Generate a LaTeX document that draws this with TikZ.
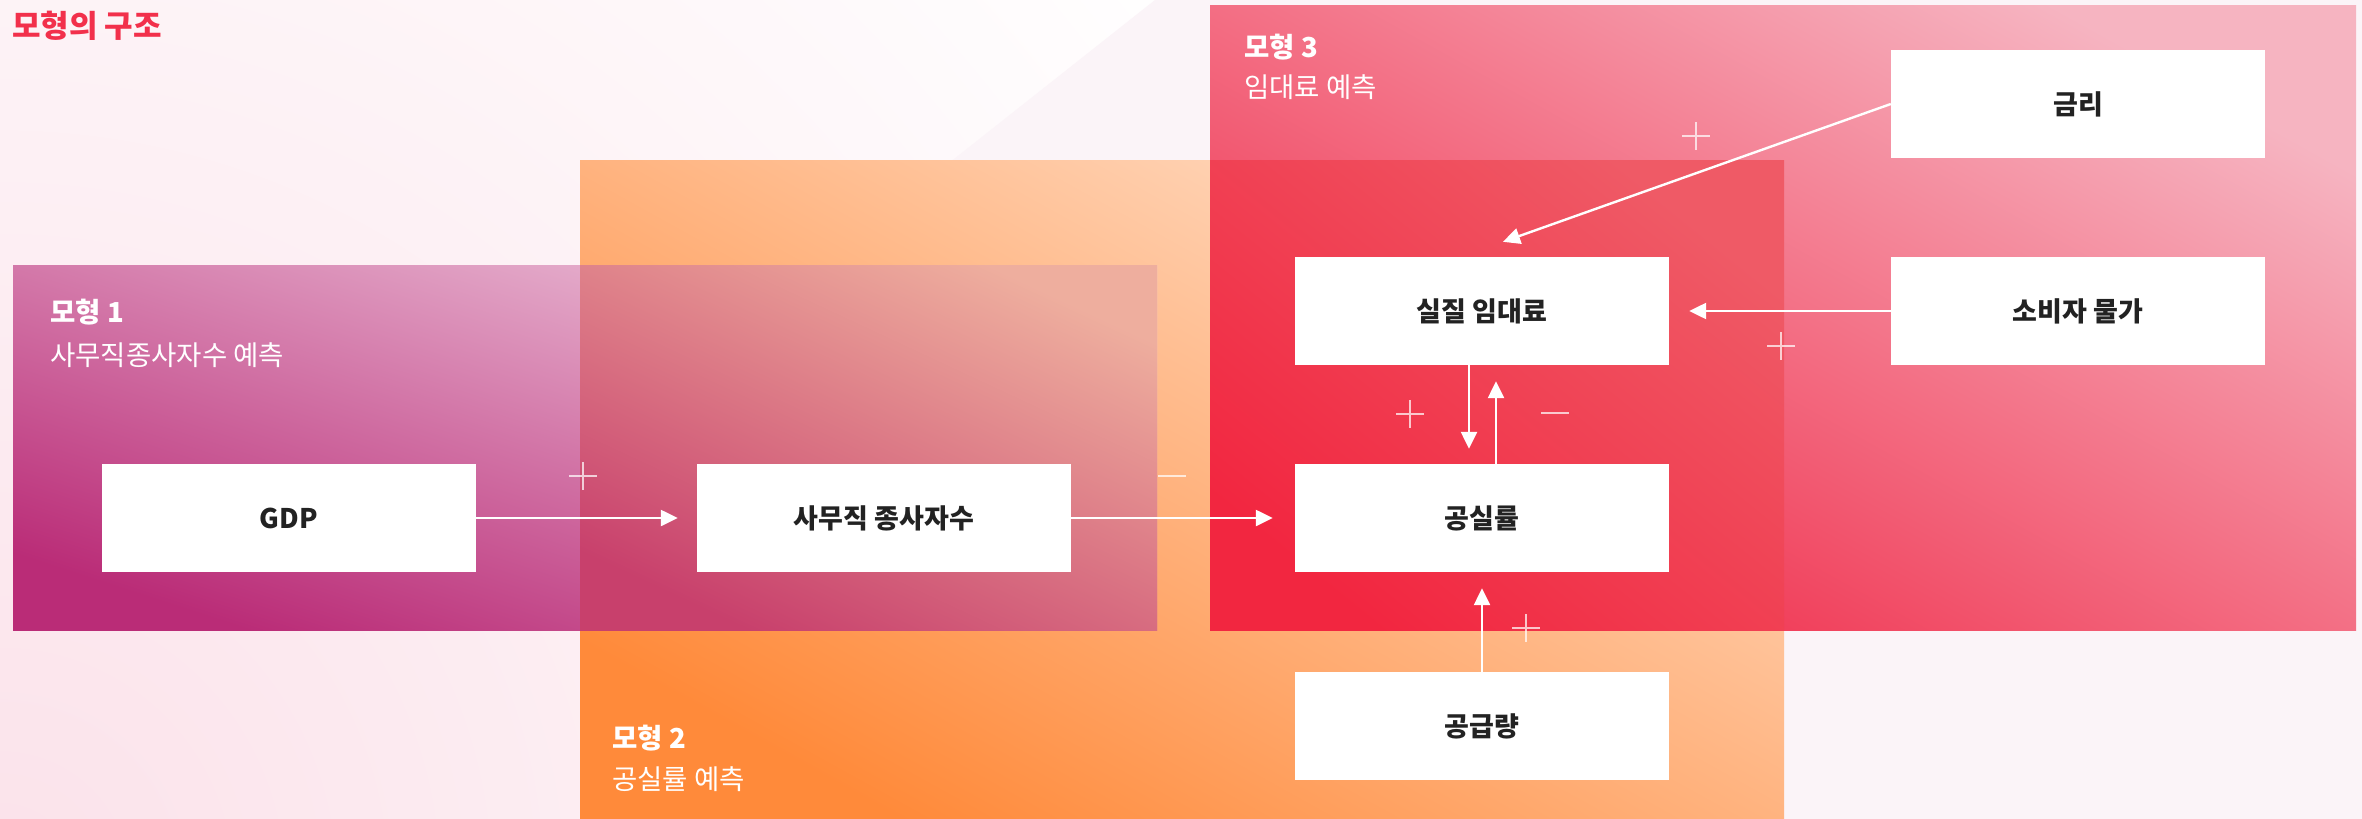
\documentclass[tikz,border=0pt]{standalone}
\usepackage{fontspec}
\setmainfont{Noto Sans CJK KR}
\usetikzlibrary{arrows.meta}
\definecolor{titlered}{HTML}{F2304B}
\definecolor{textdark}{HTML}{222222}
\definecolor{glow}{HTML}{FBE2EA}
\definecolor{diagc}{HTML}{FBF4F8}
\definecolor{mAbl}{HTML}{BA2C77}
\definecolor{mAmid}{HTML}{D682AE}
\definecolor{mAtr}{HTML}{EDC6DC}
\definecolor{mBbl}{HTML}{FF8A3A}
\definecolor{mBmid}{HTML}{FEB886}
\definecolor{mBtr}{HTML}{FFDCC4}
\definecolor{mCbl}{HTML}{F02A48}
\definecolor{mCmid}{HTML}{EC5570}
\definecolor{mCtr}{HTML}{F6B4C1}
\definecolor{oABbl}{HTML}{C8406C}
\definecolor{oABmid}{HTML}{DC7886}
\definecolor{oABtr}{HTML}{EEAE9E}
\definecolor{oBCbl}{HTML}{F22640}
\definecolor{oBCmid}{HTML}{F03E52}
\definecolor{oBCtr}{HTML}{EF5A66}
\begin{document}
\begin{tikzpicture}[x=1pt,y=-1pt,
  box/.style={fill=white, minimum width=374pt, minimum height=108pt, inner sep=0pt,
    font=\fontsize{27}{30}\selectfont\bfseries, text=textdark},
  arr/.style={draw=white, line width=2.4pt, -{Triangle[length=17pt,width=16pt]}},
  plusmark/.style={minimum size=28pt, inner sep=0pt,
    path picture={\draw[white, opacity=.72, line width=2.6pt]
      (path picture bounding box.north) -- (path picture bounding box.south)
      (path picture bounding box.west) -- (path picture bounding box.east);}},
  minusmark/.style={minimum width=28pt, minimum height=2.6pt, inner sep=0pt, fill=white, fill opacity=.72},
  head/.style={anchor=west, inner sep=0pt, text=white, font=\fontsize{27.5}{31}\selectfont\bfseries},
  sub/.style={anchor=west, inner sep=0pt, text=white, font=\fontsize{27.5}{31}\selectfont},
]
\useasboundingbox (0,0) rectangle (2362,819);
\fill[white] (0,0) rectangle (2362,819);
\begin{scope}
  \clip (0,0) rectangle (2362,819);
  \shade[inner color=glow, outer color=white] (0,880) circle (1500);
  \fill[diagc] (1155,0) -- (2362,0) -- (2362,819) -- (700,819) -- (700,360) -- cycle;
\end{scope}
% model regions
\shade[bottom color=mBbl, middle color=mBmid, top color=mBtr, shading angle=-29] (580,160) rectangle (1784,819);
\shade[bottom color=mAbl, middle color=mAmid, top color=mAtr, shading angle=-18] (13,265) rectangle (1157,630);
\shade[bottom color=mCbl, middle color=mCmid, top color=mCtr, shading angle=-29] (1210,5) rectangle (2356,630);
\shade[bottom color=oABbl, middle color=oABmid, top color=oABtr, shading angle=-25] (580,265) rectangle (1157,630);
\shade[bottom color=oBCbl, middle color=oBCmid, top color=oBCtr, shading angle=-39] (1210,160) rectangle (1784,630);
% title and labels
\node[anchor=west, inner sep=0pt, text=titlered, font=\fontsize{31}{36}\selectfont\bfseries] (title) at (12,26) {모형의 구조};
\node[head] (h1) at (50,312) {모형 1};
\node[sub] (s1) at (50,355) {사무직종사자수 예측};
\node[head] (h2) at (612,738) {모형 2};
\node[sub] (s2) at (612,779) {공실률 예측};
\node[head] (h3) at (1244,47) {모형 3};
\node[sub] (s3) at (1244,87) {임대료 예측};
% nodes
\node[box] (gdp) at (289,518) {GDP};
\node[box] (emp) at (884,518) {사무직 종사자수};
\node[box] (vac) at (1482,518) {공실률};
\node[box] (rent) at (1482,311) {실질 임대료};
\node[box] (sup) at (1482,726) {공급량};
\node[box] (rate) at (2078,104) {금리};
\node[box] (cpi) at (2078,311) {소비자 물가};
% connectors
\draw[arr, shorten >=19pt] (gdp.east) -- (emp.west);
\draw[arr, shorten >=22pt] (emp.east) -- (vac.west);
\draw[arr, shorten >=20pt] (cpi.west) -- (rent.east);
\draw[arr] (rate.west) -- ([xshift=21pt,yshift=15pt]rent.north);
\draw[arr] ([xshift=-13pt]rent.south) -- ([xshift=-13pt,yshift=15pt]vac.north);
\draw[arr] ([xshift=14pt]vac.north) -- ([xshift=14pt,yshift=-16pt]rent.south);
\draw[arr] (sup.north) -- ([yshift=-16pt]vac.south);
% signs
\node[plusmark] (p1) at (583,476) {};
\node[minusmark] (m1) at (1172,476) {};
\node[plusmark] (p2) at (1696,136) {};
\node[plusmark] (p3) at (1781,346) {};
\node[plusmark] (p4) at (1410,414) {};
\node[minusmark] (m2) at (1555,413) {};
\node[plusmark] (p5) at (1526,628) {};
\end{tikzpicture}
\end{document}
